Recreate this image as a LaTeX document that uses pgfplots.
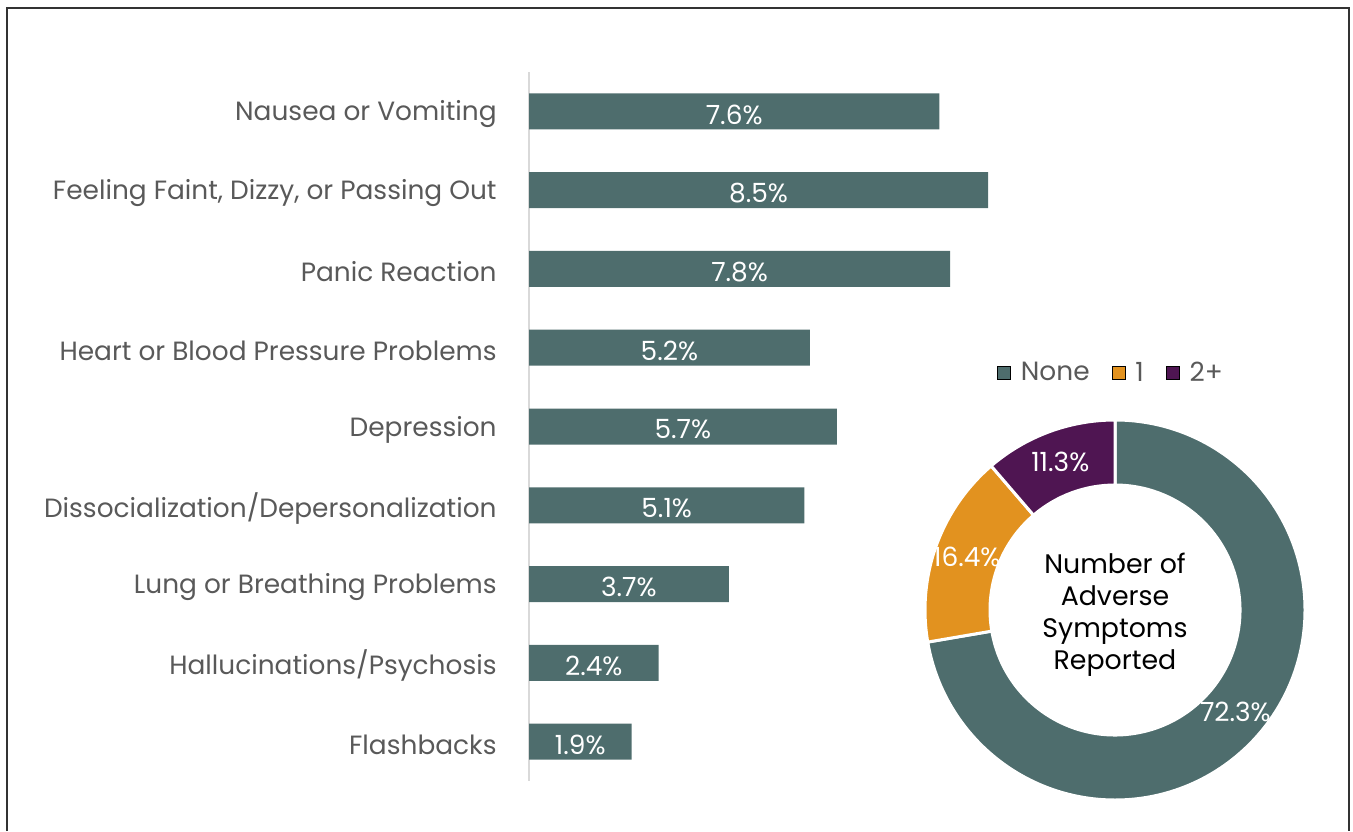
\documentclass[border=0pt]{standalone}
\usepackage{pgfplots}
\usepackage{pgfplotstable}
\pgfplotsset{compat=1.18}
\usepackage{fontspec}
\setmainfont{Poppins}

\definecolor{barc}{RGB}{78,109,109}
\definecolor{orc}{RGB}{226,146,31}
\definecolor{purc}{RGB}{79,21,82}
\definecolor{labc}{RGB}{89,89,89}
\definecolor{linec}{RGB}{217,217,217}

\pgfplotstableread{
id v
0 7.6
1 8.5
2 7.8
3 5.2
4 5.7
5 5.1
6 3.7
7 2.4
8 1.9
}\bars

\newcommand\lab{\fontsize{13.2}{15}\selectfont}

\begin{document}
\begin{tikzpicture}
% picture is 1353 x 831 px, 1 px = 0.5pt
\path[use as bounding box] (0pt,0pt) rectangle (676.5pt,415.5pt);
\draw[line width=1pt, black!80] (3.5pt,0pt) -- (3.5pt,411.5pt) -- (674.5pt,411.5pt) -- (674.5pt,0pt);

% bar chart
\begin{axis}[
    at={(264.5pt,25pt)}, anchor=south west,
    scale only axis, width=270pt, height=354.5pt,
    xmin=0, xmax=10, ymin=-0.5, ymax=8.5, y dir=reverse,
    axis x line=none, axis y line*=left,
    axis line style={-, draw=linec, line width=0.8pt},
    ytick={0,...,8}, major tick length=0pt,
    yticklabels={Nausea or Vomiting, {Feeling Faint, Dizzy, or Passing Out}, Panic Reaction,
        Heart or Blood Pressure Problems, Depression, Dissocialization/Depersonalization,
        Lung or Breathing Problems, Hallucinations/Psychosis, Flashbacks},
    yticklabel style={font=\lab, text=labc, inner xsep=0pt, xshift=-16pt, yshift=-1.5pt},
    clip=false,
]
\addplot[xbar, bar width=18pt, bar shift=0pt, fill=barc, draw=none] table[x=v, y=id] {\bars};
\addplot[only marks, mark=*, mark size=0pt, point meta=explicit,
    nodes near coords={\pgfmathprintnumber[fixed, fixed zerofill, precision=1, assume math mode=true]{\pgfplotspointmeta}\%},
    nodes near coords style={anchor=center, white, font=\lab, yshift=-1.5pt}]
    table[x expr=\thisrow{v}/2, y=id, meta=v] {\bars};
\end{axis}

% donut chart
\begin{axis}[
    at={(557.5pt,110.5pt)}, anchor=center,
    scale only axis, width=190pt, height=190pt,
    xmin=-1, xmax=1, ymin=-1, ymax=1, hide axis, clip=false,
    legend columns=-1,
    legend style={at={(0.5,1)}, anchor=center, xshift=-1.5pt, yshift=23.5pt, draw=none, fill=none,
        font=\lab, text=labc,
        /tikz/every odd column/.append style={column sep=3pt},
        /tikz/every even column/.append style={column sep=9pt}},
    legend image code/.code={\fill (0pt,-3pt) rectangle (6.5pt,3.5pt);},
]
\addlegendimage{fill=barc}\addlegendentry{None}
\addlegendimage{fill=orc}\addlegendentry{1}
\addlegendimage{fill=purc}\addlegendentry{2+}
\coordinate (dc) at (axis cs:0,0);
\end{axis}
\begin{scope}[shift={(dc)}]
\foreach \pv/\ps/\pc in {72.3/0/barc, 16.4/72.3/orc, 11.3/88.7/purc} {
    \pgfmathsetmacro\pa{90-3.6*\ps}
    \pgfmathsetmacro\pb{90-3.6*(\ps+\pv)}
    \pgfmathsetmacro\pmid{(\pa+\pb)/2}
    \fill[\pc, draw=white, line width=1.5pt] (\pa:95pt) arc[start angle=\pa, end angle=\pb, radius=95pt]
        -- (\pb:62.5pt) arc[start angle=\pb, end angle=\pa, radius=62.5pt] -- cycle;
    \node[white, font=\lab] at (\pmid:78.75pt) {\pv\%};
}
\node[align=center, font=\fontsize{13.4}{16}\selectfont, black] at (0pt,-2.5pt)
    {Number of\\Adverse\\Symptoms\\Reported};
\end{scope}
\end{tikzpicture}
\end{document}
